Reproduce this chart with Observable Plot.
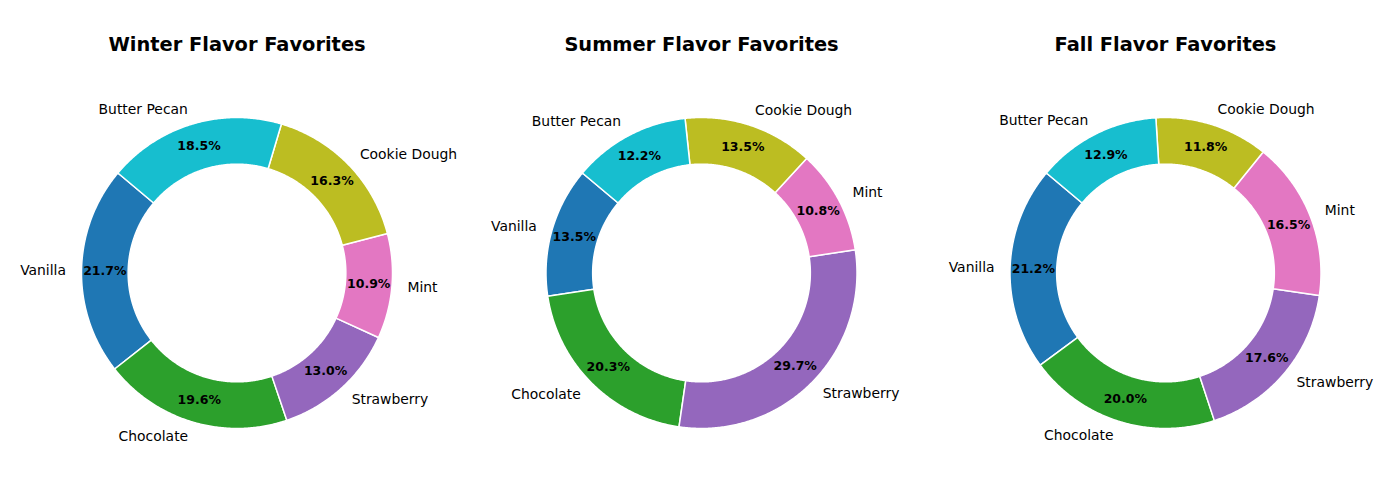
<!DOCTYPE html>
<html>
<head>
<meta charset="utf-8">
<script src="https://cdn.jsdelivr.net/npm/d3@7"></script>
<script src="https://cdn.jsdelivr.net/npm/@observablehq/plot@0.6"></script>
<style>
  html, body { margin: 0; padding: 0; background: #fff; }
  #chart { width: 1400px; height: 500px; }
</style>
</head>
<body>
<div id="chart"></div>
<script>
// ---- Data ----
const flavors = ["Vanilla", "Chocolate", "Strawberry", "Mint", "Cookie Dough", "Butter Pecan"];
const flavorColors = ["#1f77b4", "#2ca02c", "#9467bd", "#e377c2", "#bcbd22", "#17becf"];
const seasons = ["Winter", "Summer", "Fall"];
const titles = ["Winter Flavor Favorites", "Summer Flavor Favorites", "Fall Flavor Favorites"];
const winterShares = [21.7, 19.6, 13.0, 10.9, 16.3, 18.5];
const summerShares = [13.5, 20.3, 29.7, 10.8, 13.5, 12.2];
const fallShares   = [21.2, 20.0, 17.6, 16.5, 11.8, 12.9];
const seasonShares = [winterShares, summerShares, fallShares];

// ---- Layout ----
const W = 1400, H = 500;
const centersX = [236.5, 701, 1165];
const centerY = 272.5;
const R = 155.5;
const ringWidth = 0.3;
const startAngle = 140;
const font = "DejaVu Sans, sans-serif";

const rad = d => d * Math.PI / 180;
const wedgePts = [];
const pctLabels = [];
const catLabels = [];
const titleRows = [];

seasons.forEach((s, si) => {
  const vals = seasonShares[si];
  const total = d3.sum(vals);
  const cx = centersX[si];
  titleRows.push({x: cx, y: 44, text: titles[si]});
  let a0 = startAngle;
  vals.forEach((v, fi) => {
    const sweep = 360 * v / total;
    const a1 = a0 + sweep;
    const key = s + "-" + flavors[fi];
    const n = Math.max(2, Math.ceil(sweep / 0.5));
    const pts = [];
    for (let k = 0; k <= n; k++) {
      const a = rad(a0 + sweep * k / n);
      pts.push([cx + R * Math.cos(a), centerY - R * Math.sin(a)]);
    }
    const ri = R * (1 - ringWidth);
    for (let k = n; k >= 0; k--) {
      const a = rad(a0 + sweep * k / n);
      pts.push([cx + ri * Math.cos(a), centerY - ri * Math.sin(a)]);
    }
    pts.push(pts[0]);
    pts.forEach(p => wedgePts.push({key, flavor: flavors[fi], x: p[0], y: p[1]}));
    const am = rad((a0 + a1) / 2);
    pctLabels.push({x: cx + 0.85 * R * Math.cos(am), y: centerY - 0.85 * R * Math.sin(am),
                    text: (100 * v / total).toFixed(1) + "%"});
    const lx = cx + 1.1 * R * Math.cos(am);
    catLabels.push({x: lx, y: centerY - 1.1 * R * Math.sin(am), text: flavors[fi],
                    side: Math.cos(am) > 0 ? "right" : "left"});
    a0 = a1;
  });
});

const chart = Plot.plot({
  width: W,
  height: H,
  margin: 0,
  x: {domain: [0, W], range: [0, W], axis: null},
  y: {domain: [0, H], range: [0, H], axis: null},
  color: {domain: flavors, range: flavorColors},
  style: {fontFamily: font, background: "#fff"},
  marks: [
    Plot.line(wedgePts, {x: "x", y: "y", z: "key", fill: "flavor", stroke: "white",
                         strokeWidth: 1.5, strokeLinejoin: "round", curve: "linear"}),
    Plot.text(pctLabels, {x: "x", y: "y", text: "text", fontSize: 12.5, fontWeight: "bold",
                          fill: "black", textAnchor: "middle"}),
    Plot.text(catLabels.filter(d => d.side === "right"), {x: "x", y: "y", text: "text",
                          fontSize: 13.9, fill: "black", textAnchor: "start"}),
    Plot.text(catLabels.filter(d => d.side === "left"), {x: "x", y: "y", text: "text",
                          fontSize: 13.9, fill: "black", textAnchor: "end"}),
    Plot.text(titleRows, {x: "x", y: "y", text: "text", fontSize: 19.4, fontWeight: "bold",
                          fill: "black", textAnchor: "middle"})
  ]
});
document.getElementById("chart").appendChild(chart);
</script>
</body>
</html>
